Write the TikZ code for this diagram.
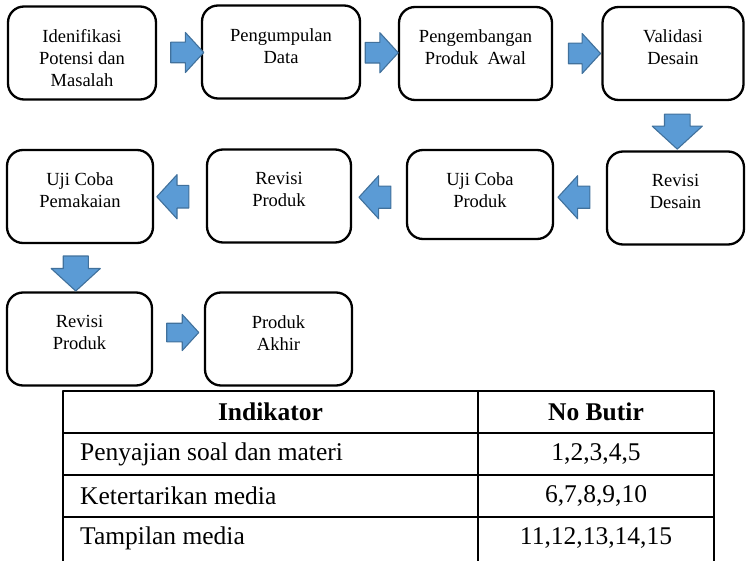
\documentclass[tikz,border=0pt]{standalone}
\usepackage{fontspec}
\setmainfont{Liberation Serif}
\usetikzlibrary{shapes.arrows,calc}
\definecolor{arwfill}{HTML}{5B9BD5}
\definecolor{arwline}{HTML}{41719C}

\begin{document}
\begin{tikzpicture}[x=1pt,y=-1pt,line join=round,
    stage/.style={draw,rounded corners=16pt,line width=2.3pt,minimum width=#1,minimum height=93pt,inner sep=0pt},
    stagetxt/.style={below=24pt,align=center,inner sep=0pt,font=\fontsize{18.5}{22}\selectfont},
    blk/.style 2 args={single arrow,draw=arwline,fill=arwfill,line width=1.1pt,inner xsep=0pt,inner ysep=#2/4,
                       minimum height=#1,single arrow head extend=#2/4,single arrow tip angle=95},
    blkdown/.style 2 args={blk={#1}{#2},inner xsep=#2/4,inner ysep=0pt,shape border rotate=270},
    tabline/.style={line width=1.8pt},
    cell/.style={inner sep=0pt,font=\fontsize{25.5}{30}\selectfont}]
  \useasboundingbox (0,0) rectangle (746,561);
  % stages, row 1
  \node[stage=148pt,label={[stagetxt]north:Idenifikasi\\Potensi dan\\Masalah}] (b1) at (82,53) {};
  \node[stage=158pt,label={[stagetxt]north:Pengumpulan\\Data}] (b2) at (281,52) {};
  \node[stage=153pt,label={[stagetxt]north:Pengembangan\\Produk\ \ Awal}] (b3) at (475.5,53.5) {};
  \node[stage=141pt,label={[stagetxt]north:Validasi\\Desain}] (b4) at (673,53.5) {};
  % row 2, right to left
  \node[stage=137pt,label={[stagetxt]north:Revisi\\Desain}] (b5) at (675.5,198) {};
  \node[stage=146pt,minimum height=89pt,label={[stagetxt]north:Uji Coba\\Produk}] (b6) at (480,194.5) {};
  \node[stage=144pt,label={[stagetxt]north:Revisi\\Produk}] (b7) at (279,196) {};
  \node[stage=146pt,label={[stagetxt]north:Uji Coba\\Pemakaian}] (b8) at (80,196.5) {};
  % row 3
  \node[stage=145pt,label={[stagetxt]north:Revisi\\Produk}] (b9) at (79.5,339) {};
  \node[stage=147pt,label={[stagetxt]north:Produk\\Akhir}] (b10) at (278.5,339) {};
  % block arrows between the stages
  \node[blk={33pt}{39pt}] (a1) at ($(b1.east)!0.5!(b2.west)+(3.5,0)$) {};
  \node[blk={33pt}{39pt}] (a2) at ($(b2.east)!0.5!(b3.west)+(-2.5,0)$) {};
  \node[blk={32pt}{39pt}] (a3) at ($(b3.east)!0.5!(b4.west)+(2.5,0)$) {};
  \node[blkdown={35pt}{49pt}] (a4) at ($(b4.south)!0.5!(b5.north)+(3,0)$) {};
  \node[blk={32pt}{42pt},shape border rotate=180] (a5) at ($(b5.west)!0.5!(b6.east)+(-1,1)$) {};
  \node[blk={32pt}{42pt},shape border rotate=180] (a6) at ($(b6.west)!0.5!(b7.east)+(1,2)$) {};
  \node[blk={32pt}{43pt},shape border rotate=180] (a7) at ($(b7.west)!0.5!(b8.east)+(-2,0.5)$) {};
  \node[blkdown={35pt}{48pt}] (a8) at ($(b8.south)!0.5!(b9.north)+(-4,0)$) {};
  \node[blk={32pt}{35pt}] (a9) at ($(b9.east)!0.5!(b10.west)+(0,-6.5)$) {};
  % table below
  \draw[tabline] (63,561) -- (63,391) -- (714,391) -- (714,561);
  \draw[tabline] (478,391) -- (478,561);
  \draw[tabline] (63,433) -- (714,433) (63,475) -- (714,475) (63,517) -- (714,517);
  \node[cell,font=\fontsize{25.5}{30}\selectfont\bfseries] (h1) at (270.5,412) {Indikator};
  \node[cell,font=\fontsize{25.5}{30}\selectfont\bfseries] (h2) at (596,412) {No Butir};
  \node[cell,anchor=west] (r1) at (80,454) {Penyajian soal dan materi};
  \node[cell] (n1) at (596,454) {1,2,3,4,5};
  \node[cell,anchor=west] (r2) at (80,496) {Ketertarikan media};
  \node[cell] (n2) at (596,496) {6,7,8,9,10};
  \node[cell,anchor=west] (r3) at (80,538) {Tampilan media};
  \node[cell] (n3) at (596,538) {11,12,13,14,15};
\end{tikzpicture}
\end{document}
